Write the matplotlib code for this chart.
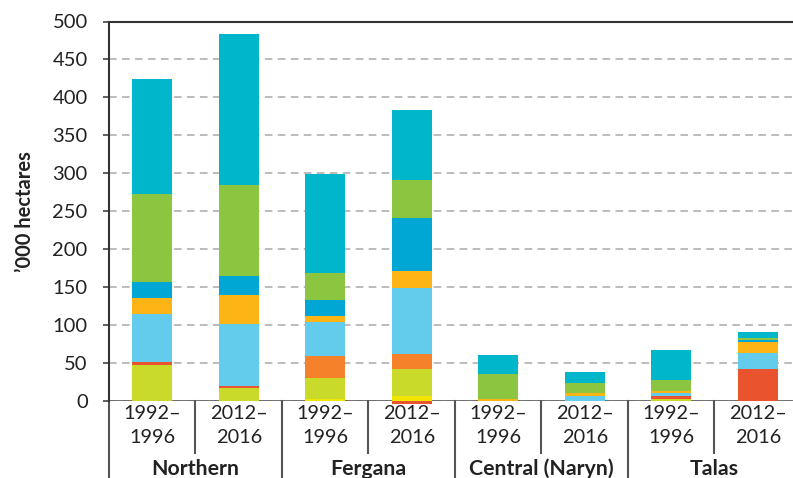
import matplotlib
matplotlib.use("Agg")
import matplotlib.pyplot as plt
import numpy as np
from matplotlib.transforms import blended_transform_factory

plt.rcParams['font.family'] = ['Lato', 'DejaVu Sans']

groups = ["Northern", "Fergana", "Central (Naryn)", "Talas"]
periods = ["1992–\n1996", "2012–\n2016"]

# series values, order: N92, N16, F92, F16, C92, C16, T92, T16 (stacked bottom to top)
bright_yellow = [0, 0, 3, 6.5, 0, 0, 0, 0]
yellow_green  = [48, 17.5, 27, 35.5, 0, 0, 2, 0]
red           = [4, 2.5, 0, -3.5, 0, 0, 5, 42.5]
orange        = [0, 0, 29, 20, 0, 0, 0, 0]
light_blue    = [63, 82, 45, 87.5, 0, 7, 3.5, 21]
gold          = [21, 37.5, 8, 21.5, 3, 4, 3, 14.5]
blue          = [21, 25, 21, 70, 0, 0, 0, 3]
green         = [116, 119.5, 35, 50, 33, 13, 14.5, 2]
teal          = [151, 200, 131, 92, 25, 14, 39, 8]

series = [
    (bright_yellow, "#F2E500"),
    (yellow_green, "#C9DA2A"),
    (red, "#E9532E"),
    (orange, "#F5822A"),
    (light_blue, "#63CBEC"),
    (gold, "#FDB515"),
    (blue, "#00A6D4"),
    (green, "#8CC640"),
    (teal, "#00B6CA"),
]

W, H = 793, 478
fig = plt.figure(figsize=(W / 100, H / 100), dpi=100)
left_px, right_px = 109, 793
bot_px, top_px = 401, 21.5
ax = fig.add_axes([left_px / W, (H - bot_px) / H, (right_px - left_px) / W, (bot_px - top_px) / H])

n = len(teal)
x = np.arange(n)
pos_bottom = np.zeros(n)
neg_bottom = np.zeros(n)
for vals, col in series:
    v = np.array(vals, dtype=float)
    b = np.where(v >= 0, pos_bottom, neg_bottom)
    ax.bar(x, v, bottom=b, width=0.46, color=col, zorder=3, clip_on=False, linewidth=0)
    pos_bottom += np.where(v > 0, v, 0)
    neg_bottom += np.where(v < 0, v, 0)

slot_px = 86.5
ax.set_xlim(-0.5, -0.5 + (right_px - left_px) / slot_px)
ax.set_ylim(0, 500)
ax.set_yticks(np.arange(0, 501, 50))
ax.tick_params(axis='y', labelsize=14.5, length=4.3, width=1.2, color='#444444', pad=11, labelcolor='#222222')
ax.set_xticks([])
ax.yaxis.grid(True, linestyle=(0, (5, 3.5)), color='#AAAAAA', linewidth=1.1, zorder=0)
for s in ['right', 'bottom', 'top']:
    ax.spines[s].set_visible(False)
ax.spines['left'].set_color('#333333')
ax.spines['left'].set_linewidth(1.5)
ax.axhline(500, color='#333333', linewidth=1.5, zorder=4, clip_on=False)
ax.axhline(0, color='#666666', linewidth=2, zorder=2)

ax.set_ylabel("’000 hectares", fontsize=14.5, fontweight='bold', color='#222222')
ax.yaxis.set_label_coords(-0.108, 0.5)

trans = blended_transform_factory(ax.transData, ax.transAxes)
ax_h_px = bot_px - top_px
def yfrac(py):
    return (bot_px - py) / ax_h_px

# year separators
for i in range(len(groups)):
    xm = 2 * i + 0.5
    ax.plot([xm, xm], [yfrac(401), yfrac(453)], transform=trans, color='#555555', lw=1.5, clip_on=False)
# group separators
for i in range(len(groups) + 1):
    xg = 2 * i - 0.5
    ax.plot([xg, xg], [yfrac(401), yfrac(480)], transform=trans, color='#555555', lw=1.5, clip_on=False)

for i in range(n):
    ax.text(x[i], yfrac(405), periods[i % 2], transform=trans, ha='center', va='top',
            fontsize=14.3, color='#222222', linespacing=1.5)
for i, g in enumerate(groups):
    ax.text(2 * i + 0.5, yfrac(469), g, transform=trans, ha='center', va='center',
            fontsize=15.3, fontweight='bold', color='#222222')

fig.savefig("out.png", dpi=100)
